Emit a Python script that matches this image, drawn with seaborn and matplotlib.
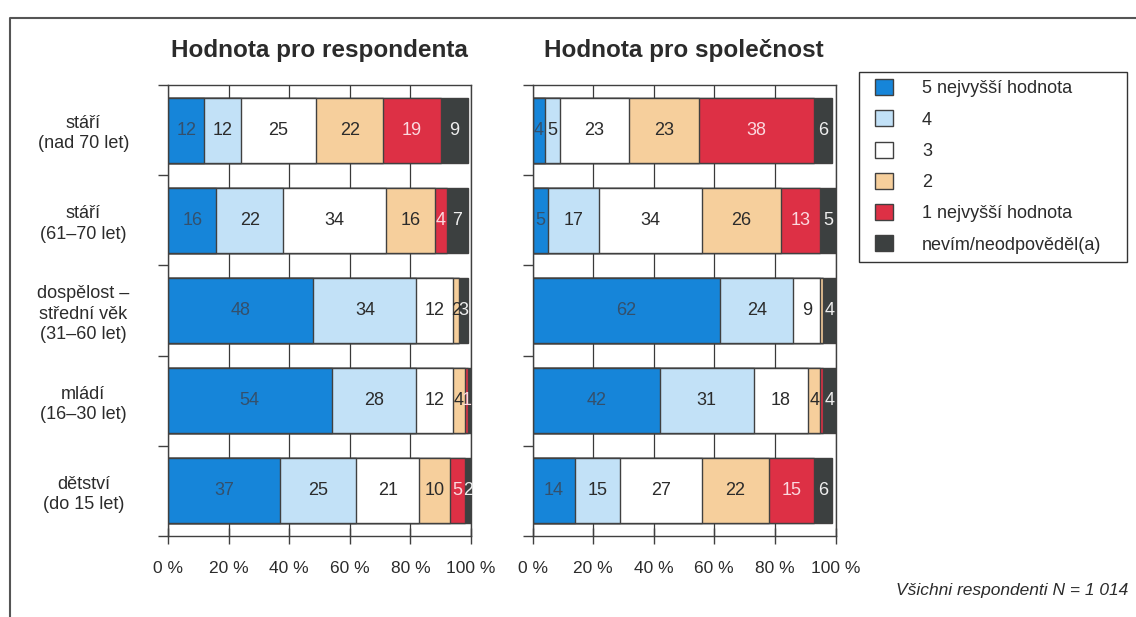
import matplotlib
matplotlib.use("Agg")
import matplotlib.pyplot as plt
from matplotlib.patches import Patch, Rectangle
from matplotlib.lines import Line2D
import numpy as np
import pandas as pd
import seaborn as sns

# Age groups, top to bottom
categories = [
    "stáří\n(nad 70 let)",
    "stáří\n(61–70 let)",
    "dospělost –\nstřední věk\n(31–60 let)",
    "mládí\n(16–30 let)",
    "dětství\n(do 15 let)",
]
series = ["5 nejvyšší hodnota", "4", "3", "2", "1 nejvyšší hodnota",
          "nevím/neodpověděl(a)"]
colors = ["#1685d9", "#c2e1f7", "#ffffff", "#f6cf9c", "#dd3045", "#3c4040"]
text_colors = ["#34506c", "#2b2b2b", "#2b2b2b", "#2b2b2b", "#fbd9df", "#eeeeee"]

# Shares in % (rows = age groups, columns = rating)
respondent_values = [
    [12, 12, 25, 22, 19, 9],
    [16, 22, 34, 16, 4, 7],
    [48, 34, 12, 2, 0, 3],
    [54, 28, 12, 4, 1, 1],
    [37, 25, 21, 10, 5, 2],
]
society_values = [
    [4, 5, 23, 23, 38, 6],
    [5, 17, 34, 26, 13, 5],
    [62, 24, 9, 1, 0, 4],
    [42, 31, 18, 4, 1, 4],
    [14, 15, 27, 22, 15, 6],
]
# Slivers too narrow to carry a printed value (row, column)
respondent_unlabeled = [(3, 5)]
society_unlabeled = [(2, 3), (3, 4)]

panel_titles = ["Hodnota pro respondenta", "Hodnota pro společnost"]
x_ticks = [0, 20, 40, 60, 80, 100]
x_tick_labels = ["0 %", "20 %", "40 %", "60 %", "80 %", "100 %"]
note = "Všichni respondenti N = 1 014"

sns.set_style("ticks")
plt.rcParams["font.family"] = ["Liberation Sans", "DejaVu Sans"]

W, H = 1136, 617
EDGE = "#404040"
TXT = "#2b2b2b"

fig = plt.figure(figsize=(W / 100, H / 100), dpi=100)
fig.patch.set_facecolor("white")

ax_left = fig.add_axes([168 / W, 81 / H, 303 / W, 451 / H])
ax_right = fig.add_axes([532.5 / W, 81 / H, 303 / W, 451 / H])


def draw_panel(ax, values, unlabeled, title, show_categories):
    df = pd.DataFrame(values, columns=series)
    df["category"] = categories
    cum = df[series].cumsum(axis=1)
    # stacked bars: widest cumulative bar first, narrower ones on top
    for j in range(len(series) - 1, -1, -1):
        sns.barplot(x=cum[series[j]].values, y=df["category"].values,
                    order=categories, orient="h", color=colors[j],
                    saturation=1, width=0.72, edgecolor=EDGE, linewidth=1.0,
                    errorbar=None, ax=ax, zorder=2)
    for i in range(len(categories)):
        start = 0
        for j in range(len(series)):
            v = values[i][j]
            if v > 0 and (i, j) not in unlabeled:
                ax.text(start + v / 2, i, str(v), ha="center", va="center",
                        fontsize=13, color=text_colors[j], zorder=5)
            start += v

    ax.set_xlim(0, 100)
    ax.set_ylim(4.5, -0.5)
    ax.set_xticks(x_ticks)
    ax.set_xticklabels(x_tick_labels, fontsize=12.5, color=TXT)
    ax.xaxis.grid(True, color="#3a3a3a", lw=0.9)
    ax.yaxis.grid(False)
    ax.set_axisbelow(True)
    ax.set_xlabel("")
    ax.set_ylabel("")

    ax.set_yticks(range(len(categories)))
    ax.set_yticks(np.arange(-0.5, len(categories), 1), minor=True)
    if show_categories:
        ax.set_yticklabels(categories, ha="center", multialignment="center",
                           fontsize=13, color=TXT, linespacing=1.25)
    else:
        ax.set_yticklabels([])
    ax.tick_params(axis="y", which="major", length=0, pad=61)
    ax.tick_params(axis="y", which="minor", length=7, width=1,
                   direction="out", color=EDGE)
    ax.tick_params(axis="x", which="major", length=12, width=1,
                   direction="inout", color=EDGE, pad=12)

    for s in ax.spines.values():
        s.set_visible(True)
        s.set_color(EDGE)
        s.set_linewidth(1.0)

    ax.set_title(title, fontsize=17.5, fontweight="bold", color=TXT, pad=20)


draw_panel(ax_left, respondent_values, respondent_unlabeled,
           panel_titles[0], True)
draw_panel(ax_right, society_values, society_unlabeled,
           panel_titles[1], False)

# legend entries, with a separate box around them
handles = [Patch(facecolor=c, edgecolor=EDGE, linewidth=1.0) for c in colors]
leg = fig.legend(handles, series, loc="upper left",
                 bbox_to_anchor=(875 / W, 1 - 79 / H),
                 bbox_transform=fig.transFigure, frameon=False,
                 fontsize=13, handlelength=1.0, handleheight=1.0,
                 handletextpad=1.6, labelspacing=0.72,
                 borderpad=0, borderaxespad=0)
for t in leg.get_texts():
    t.set_color(TXT)
fig.add_artist(Rectangle((859 / W, 1 - 262 / H), (1127 - 859) / W, 190 / H,
                         transform=fig.transFigure, fill=False,
                         edgecolor="#333333", lw=1.0))

fig.text(1128 / W, 1 - 591 / H, note, ha="right", va="center",
         fontsize=12.5, style="italic", color=TXT)

# outer frame (left and top edges)
fig.add_artist(Line2D([10 / W, 10 / W, 1.0], [0.0, 1 - 18 / H, 1 - 18 / H],
                      transform=fig.transFigure, color="#555555", lw=1.5))

fig.savefig("out.png", dpi=100, facecolor="white")
